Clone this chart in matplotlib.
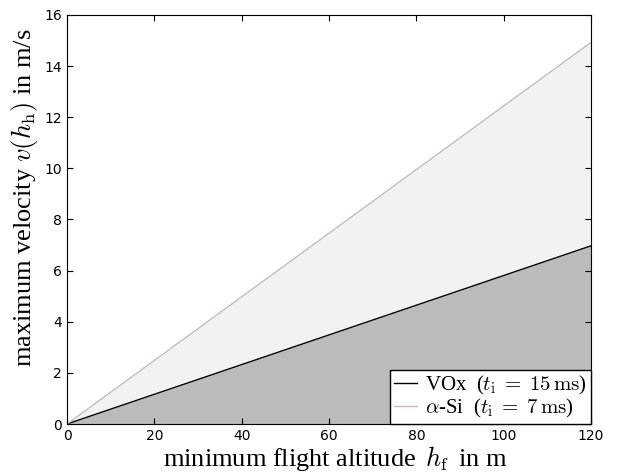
import numpy as np
import matplotlib
matplotlib.use('Agg')
import matplotlib.pyplot as plt

plt.rcParams['mathtext.fontset'] = 'cm'
plt.rcParams['xtick.direction'] = 'in'
plt.rcParams['ytick.direction'] = 'in'
plt.rcParams['xtick.top'] = True
plt.rcParams['ytick.right'] = True

# data
altitude = [0, 120]
v_vox = [0, 6.97]
v_asi = [0, 14.93]
labels = [r'VOx  ($t_\mathrm{i}\;=\;15\,\mathrm{ms}$)', r'$\alpha$-Si  ($t_\mathrm{i}\;=\;7\,\mathrm{ms}$)']

fig = plt.figure(figsize=(6.23, 4.73), dpi=100)
ax = fig.add_axes([67/623, 1 - 424/473, (591-67)/623, (424-15)/473])

ax.fill_between(altitude, 0, v_vox, color='#bbbbbb', lw=0)
ax.fill_between(altitude, v_vox, v_asi, color='#f2f2f2', lw=0)
ax.plot(altitude, v_vox, color='black', lw=1, label=labels[0])
ax.plot(altitude, v_asi, color='#c4bcbc', lw=1, label=labels[1])

ax.set_xlim(0, 120)
ax.set_ylim(0, 16)
ax.set_xticks(np.arange(0, 121, 20))
ax.set_yticks(np.arange(0, 17, 2))
ax.tick_params(labelsize=10, length=4)

serif = {'family': 'Liberation Serif', 'size': 19}
ax.set_xlabel(r'minimum flight altitude $\,h_\mathrm{f}\,$ in m', fontdict=serif)
ax.set_ylabel(r'maximum velocity $v(h_\mathrm{h})$ in m/s', fontdict=serif)
ax.xaxis.set_label_coords(0.513, -0.05)
ax.yaxis.set_label_coords(-0.052, 0.554)

leg = ax.legend(loc='lower right', borderaxespad=0, fancybox=False, framealpha=1,
                edgecolor='black', handlelength=1.1, handletextpad=0.4,
                labelspacing=0.0, borderpad=0.18,
                prop={'family': 'Liberation Serif', 'size': 15})
leg.get_frame().set_linewidth(1)

fig.savefig('out.png', dpi=100)
